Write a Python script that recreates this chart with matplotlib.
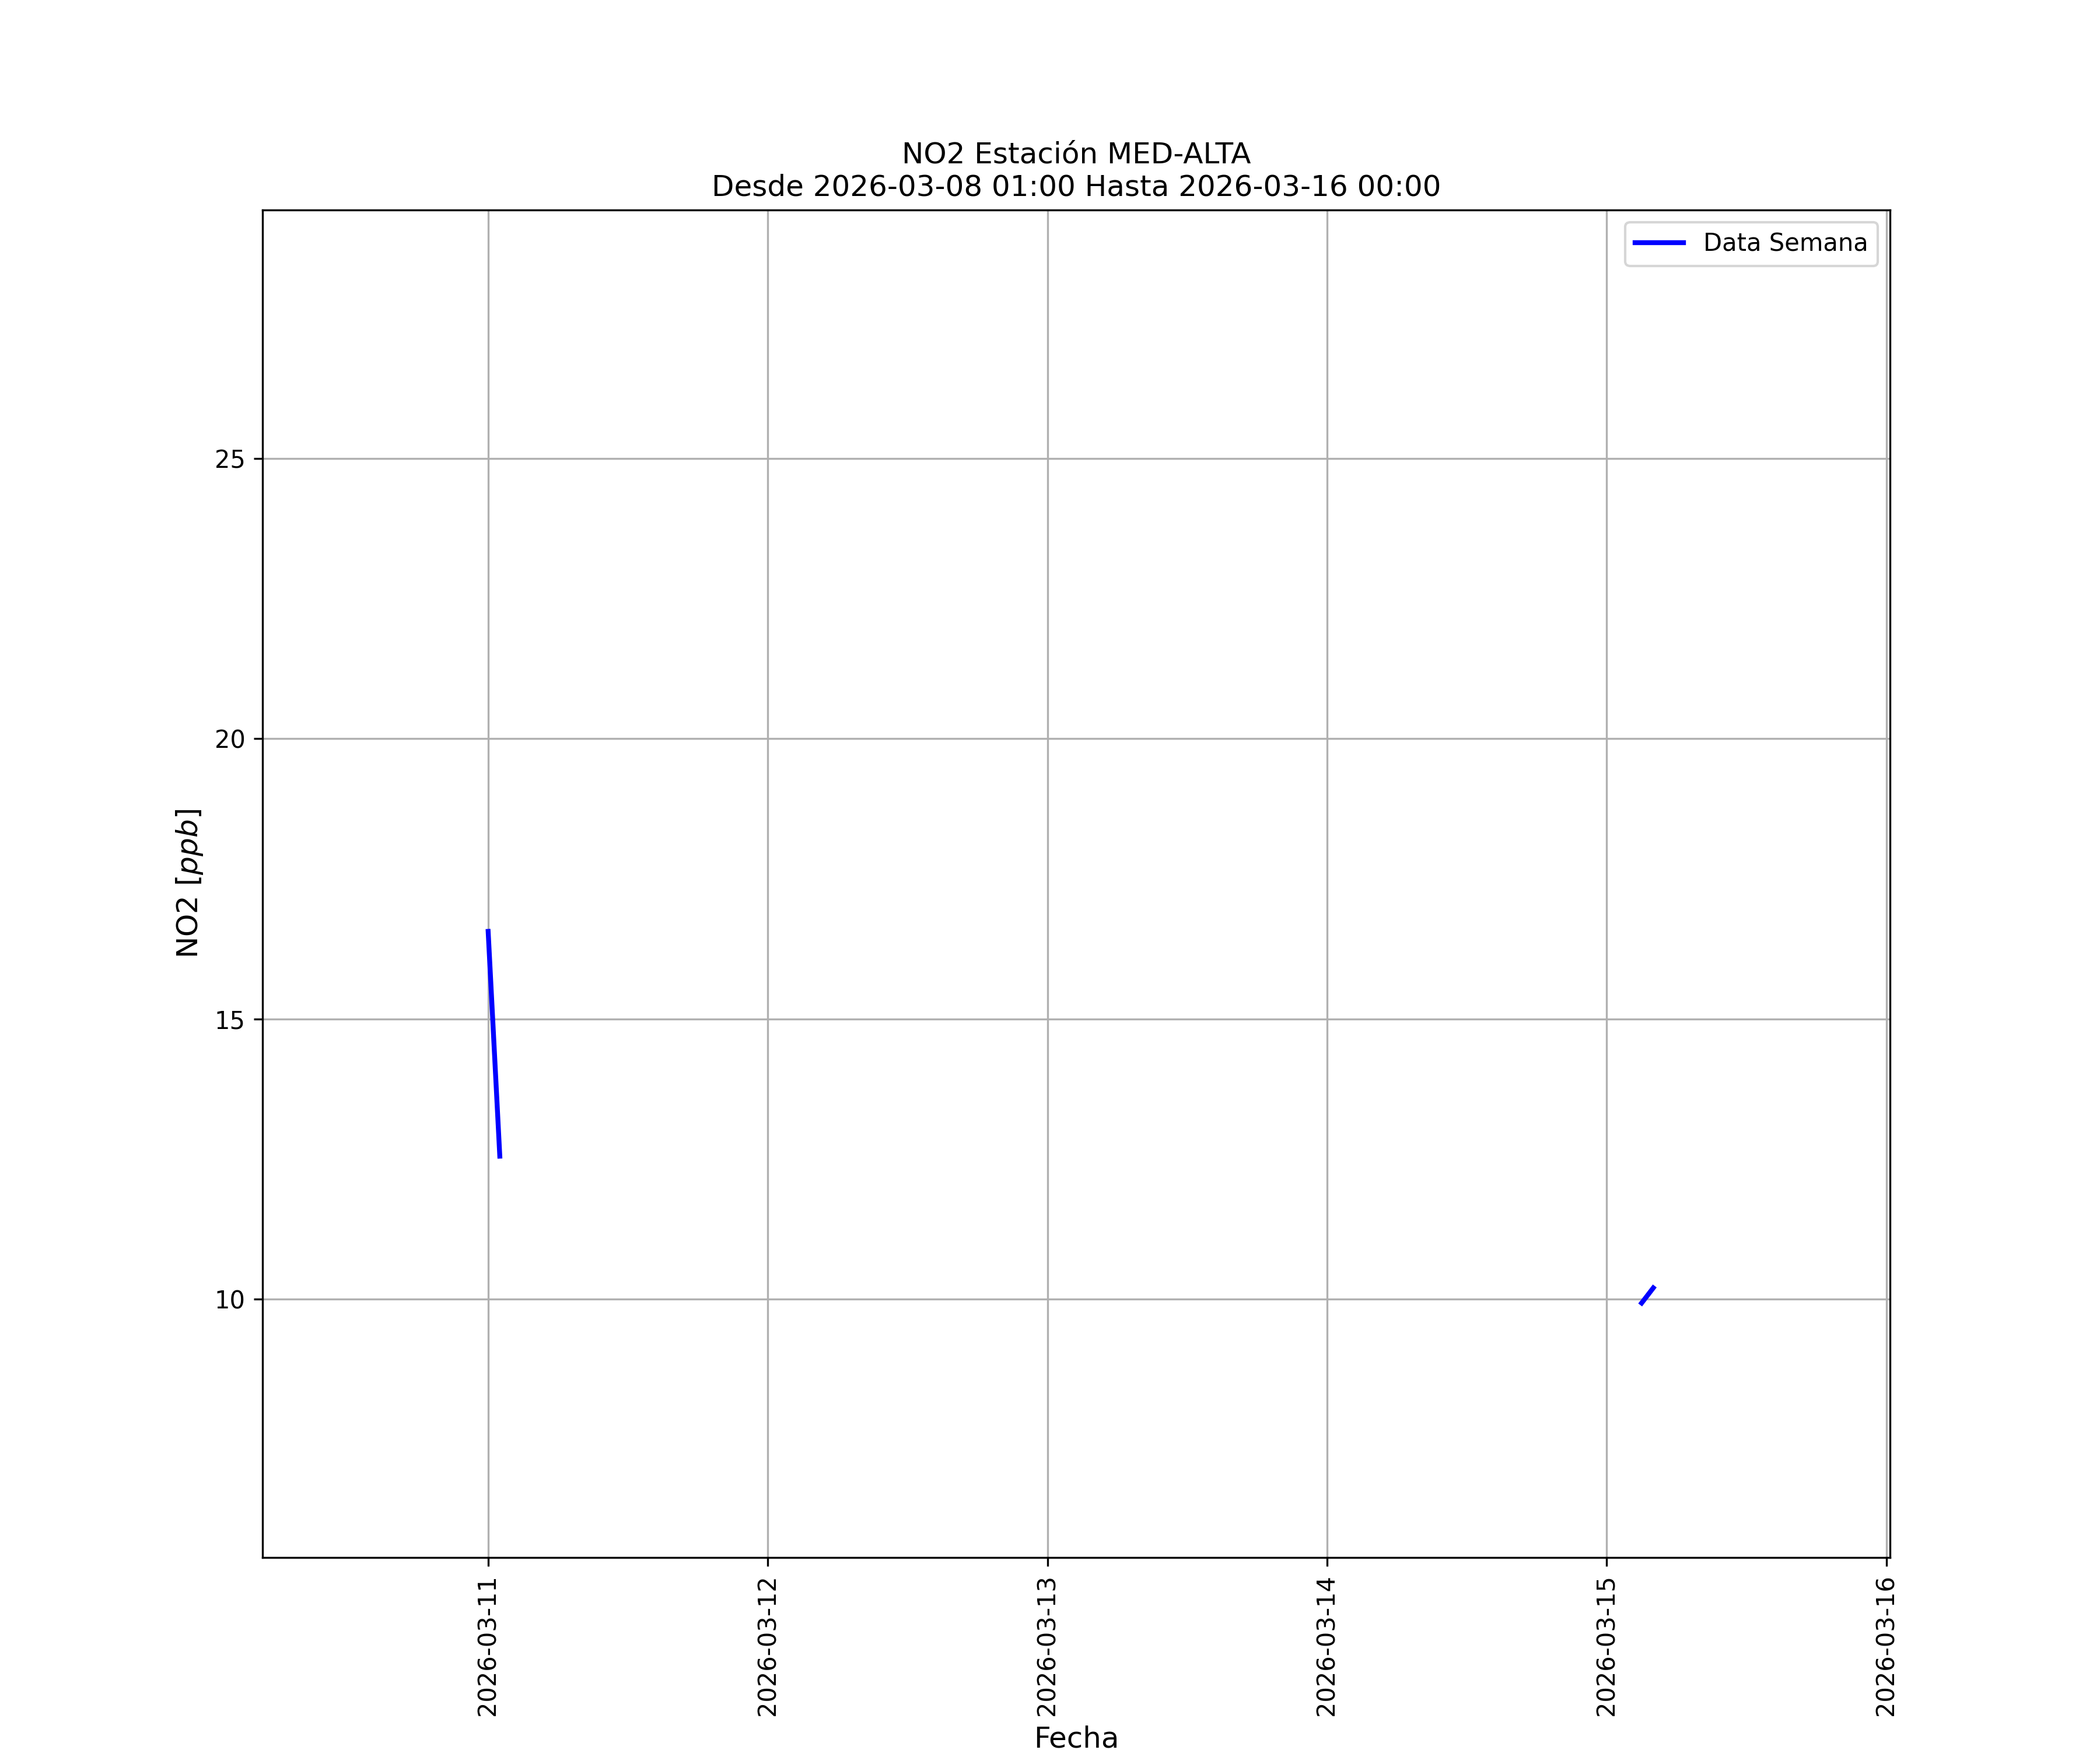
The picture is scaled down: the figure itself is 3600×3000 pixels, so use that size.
import datetime as dt
import numpy as np
import matplotlib
matplotlib.use("Agg")
import matplotlib.pyplot as plt
import matplotlib.dates as mdates

# hourly NO2 readings that survived (the rest of the week is missing)
fechas = [
    dt.datetime(2026, 3, 11, 0), dt.datetime(2026, 3, 11, 1),
    dt.datetime(2026, 3, 15, 3), dt.datetime(2026, 3, 15, 4),
]
no2 = [16.56, 12.55, 9.93, 10.2]
# gap markers so the two pieces are not joined
hueco = [False, False, True, False]

estacion = "MED-ALTA"
desde = "2026-03-08 01:00"
hasta = "2026-03-16 00:00"

x = []
y = []
for f, v, h in zip(fechas, no2, hueco):
    if h:
        x.append(f - dt.timedelta(hours=1))
        y.append(np.nan)
    x.append(f)
    y.append(v)

fig, ax = plt.subplots(figsize=(12, 10), dpi=300)
ax.plot(x, y, color="blue", linewidth=2, label="Data Semana")

ax.set_xlim(dt.datetime(2026, 3, 10, 4, 38), dt.datetime(2026, 3, 16, 0, 19))
ax.set_ylim(5.39, 29.43)
ax.xaxis.set_major_locator(mdates.DayLocator())
ax.xaxis.set_major_formatter(mdates.DateFormatter("%Y-%m-%d"))
plt.setp(ax.get_xticklabels(), rotation=90)

ax.set_title(f"NO2 Estación {estacion}\nDesde {desde} Hasta {hasta}", fontsize=12)
ax.set_xlabel("Fecha", fontsize=12)
ax.set_ylabel(r"NO2 [$ppb$]", fontsize=12)
ax.grid(True)
ax.legend(loc="upper right")

plt.savefig("out.png", dpi=300)
